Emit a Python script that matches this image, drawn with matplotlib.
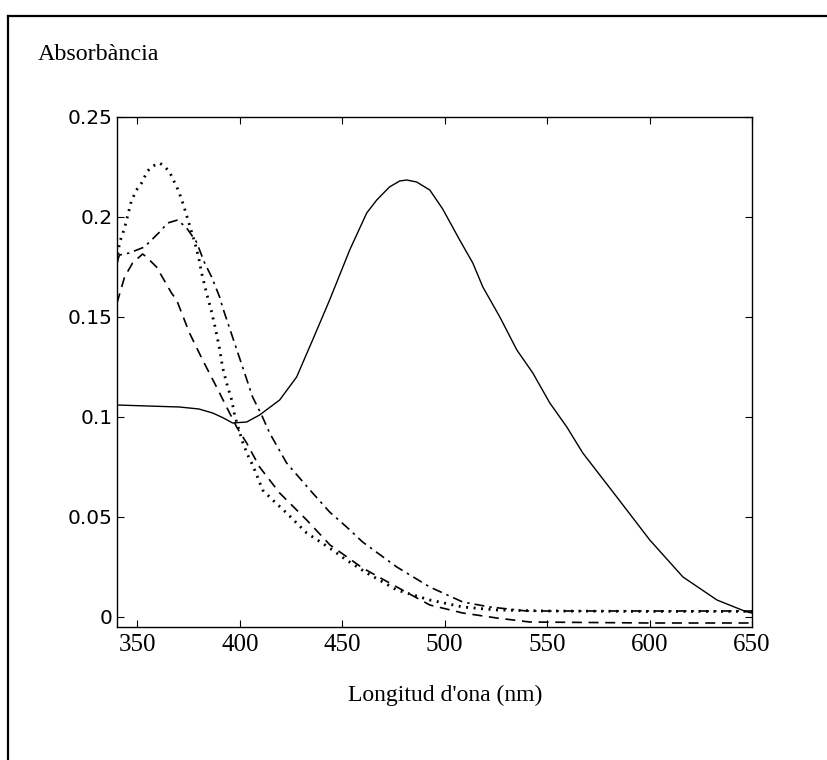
import numpy as np
import matplotlib
matplotlib.use("Agg")
import matplotlib.pyplot as plt
from matplotlib.lines import Line2D

# solid curve
wl_solid = [340, 355, 370.5, 380, 386.7, 392, 396.4, 403.3, 409.6, 419.4, 427.7, 435.5,
            443.8, 453.6, 461.9, 466.8, 473, 478, 481.4, 486.3, 492.7, 499, 507.3, 513.7,
            518.6, 526.9, 535.2, 543, 551.3, 559.6, 567.4, 584, 600.1, 616.3, 632.9, 647.5, 650]
ab_solid = [0.106, 0.1055, 0.105, 0.104, 0.102, 0.0995, 0.097, 0.0975, 0.101, 0.1085, 0.12, 0.1385,
            0.1585, 0.1835, 0.202, 0.2085, 0.215, 0.218, 0.2185, 0.2175, 0.2135, 0.204, 0.1885, 0.177,
            0.165, 0.15, 0.1335, 0.122, 0.107, 0.095, 0.082, 0.06, 0.0385, 0.02, 0.0085, 0.0025, 0.002]

# dotted curve
wl_dot = [340, 341.2, 343.7, 347, 349.5, 352, 354.9, 357.5, 360.8, 363, 365.7, 369.6, 371.5,
          373.5, 375.4, 377.9, 379.8, 381.3, 383.7, 386.2, 388.1, 390.1, 391.5, 393.5, 396,
          397.4, 401.3, 403.8, 406.2, 408.2, 411.1, 416, 422.8, 432.6, 443.8, 452, 462,
          476.6, 492.7, 508.8, 525.4, 550, 600, 650]
ab_dot = [0.1775, 0.187, 0.1945, 0.208, 0.2135, 0.217, 0.223, 0.2255, 0.227, 0.2255, 0.2225, 0.214, 0.209,
          0.2025, 0.196, 0.1875, 0.18, 0.172, 0.162, 0.1525, 0.144, 0.134, 0.125, 0.117, 0.1085,
          0.101, 0.0875, 0.081, 0.076, 0.071, 0.0635, 0.0585, 0.052, 0.042, 0.0345, 0.0285, 0.022,
          0.0135, 0.0085, 0.005, 0.0035, 0.003, 0.0028, 0.0028]

# dash-dot curve
wl_dashdot = [340, 341.2, 346, 353.4, 360.8, 364.7, 369.6, 374, 378.8, 382.8, 386.2, 390.1,
              391.5, 396.4, 401.3, 406.2, 410.6, 414.5, 422.8, 435.5, 443.8, 452.1, 459.9,
              476.6, 492.7, 508.8, 522, 540, 600, 650]
ab_dashdot = [0.1775, 0.181, 0.182, 0.185, 0.1925, 0.197, 0.1985, 0.1945, 0.1875, 0.177, 0.17, 0.16,
              0.155, 0.14, 0.125, 0.11, 0.101, 0.092, 0.077, 0.062, 0.0525, 0.045, 0.0375,
              0.025, 0.015, 0.0075, 0.005, 0.003, 0.003, 0.003]

# dashed curve
wl_dash = [340, 343.7, 347.6, 352.5, 354.4, 359.3, 366.6, 369.1, 375.4, 381.8, 388.6, 393.5,
           398.4, 403.3, 409.6, 419.4, 432.6, 444, 459.9, 476.6, 492.7, 508.8, 525.4, 541.5,
           600, 650]
ab_dash = [0.157, 0.17, 0.177, 0.1815, 0.18, 0.175, 0.162, 0.1585, 0.142, 0.1285, 0.115, 0.105,
           0.095, 0.087, 0.075, 0.062, 0.0485, 0.036, 0.0245, 0.015, 0.006, 0.002, -0.0005, -0.0025,
           -0.003, -0.003]

xticks = [350, 400, 450, 500, 550, 600, 650]
yticks = [0, 0.05, 0.1, 0.15, 0.2, 0.25]
ytick_labels = ["0", "0.05", "0.1", "0.15", "0.2", "0.25"]

fig = plt.figure(figsize=(8.27, 7.6), dpi=100)
ax = fig.add_axes([117/827, 1 - 627/760, (752-117)/827, (627-117)/760])

lw = 1.0
ax.plot(wl_solid, ab_solid, color="black", lw=lw, ls="-")
ax.plot(wl_dot, ab_dot, color="black", lw=2.0, ls=(0, (0.7, 2.0)))
ax.plot(wl_dashdot, ab_dashdot, color="black", lw=lw + 0.2, ls=(0, (6, 3, 1.5, 3)))
ax.plot(wl_dash, ab_dash, color="black", lw=lw + 0.2, ls=(0, (6, 4)))

ax.set_xlim(340, 650)
ax.set_ylim(-0.005, 0.25)
ax.set_xticks(xticks)
ax.set_yticks(yticks)
ax.set_yticklabels(ytick_labels, family="DejaVu Sans", fontsize=14.5)
ax.set_xticklabels([str(t) for t in xticks], family="Liberation Serif", fontsize=18)
ax.tick_params(direction="in", top=True, right=True, length=5, width=0.8)
ax.tick_params(axis="y", pad=3)
ax.tick_params(axis="x", pad=5)
for s in ax.spines.values():
    s.set_linewidth(1.0)

fig.text(38/827, 1 - 55/760, "Absorbància", family="Liberation Serif", fontsize=17.3,
         ha="left", va="center")
fig.text(445/827, 1 - 695/760, "Longitud d'ona (nm)", family="Liberation Serif", fontsize=17,
         ha="center", va="center")

# scanned frame (top and left edges)
fig.add_artist(Line2D([8/827, 1], [1 - 16/760, 1 - 16/760], transform=fig.transFigure,
                      color="black", lw=1.6))
fig.add_artist(Line2D([8/827, 8/827], [0, 1 - 16/760], transform=fig.transFigure,
                      color="black", lw=1.6))

fig.savefig("out.png", dpi=100)
